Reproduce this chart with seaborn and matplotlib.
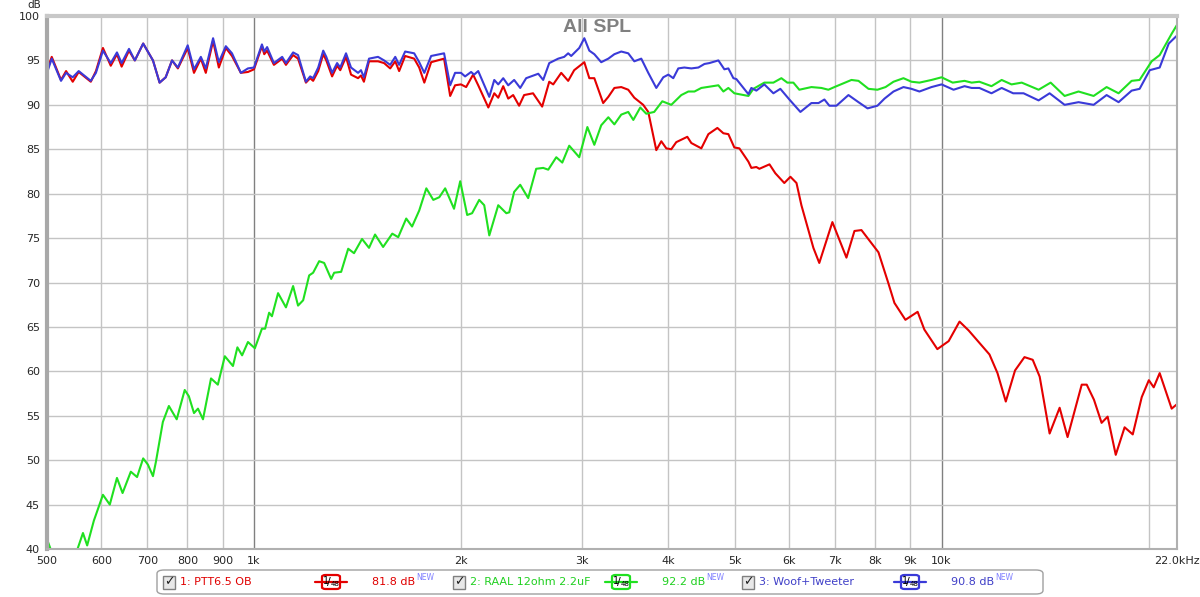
import numpy as np
import pandas as pd
import matplotlib
matplotlib.use("Agg")
import matplotlib.pyplot as plt
import seaborn as sns
from matplotlib.patches import FancyBboxPatch, Rectangle
from matplotlib.lines import Line2D

# ---- data read off the REW "All SPL" overlay ----
# trace 3: Woof+Tweeter (blue)
blue_hz = [500, 508, 524, 533, 545, 556, 579, 589, 603, 619, 632, 642, 658, 671, 690, 713, 729, 744, 760, 775,
           801, 818, 837, 851, 872, 889, 910, 929, 957, 980, 1000,
           1027, 1035, 1045, 1069, 1099, 1113, 1140, 1159, 1190, 1207, 1219, 1240, 1261, 1274, 1299, 1321, 1335,
           1361, 1384, 1417, 1431, 1445, 1470, 1515, 1546, 1578, 1605, 1626, 1659, 1710, 1739, 1769, 1810, 1890,
           1929, 1961,
           2000, 2028, 2069, 2090, 2119, 2199, 2236, 2266, 2304, 2343, 2390, 2439, 2488, 2591, 2634, 2688, 2770,
           2826, 2864, 2893, 2972, 3023, 3074, 3126, 3199, 3276, 3343, 3421, 3502, 3574, 3658, 3745, 3847, 3938,
           4005, 4072, 4141, 4225, 4326, 4429, 4520, 4595,
           4736, 4832, 4897, 4980, 5030, 5237, 5289, 5378, 5524, 5694, 5828, 6007, 6233, 6467, 6623, 6755, 6868,
           7033, 7321, 7571, 7805, 8067, 8261, 8513, 8802, 9042, 9286, 9668, 10000,
           10270, 10410, 10800, 11060, 11350, 11820, 12230, 12710, 13160, 13840, 14360, 15100, 15820, 16640,
           17380, 18090, 18900, 19410, 20080, 20760, 21400, 22000]
blue_db = [93.6, 95.2, 92.7, 93.6, 93.1, 93.8, 92.7, 93.6, 96.1, 94.7, 95.9, 94.7, 96.3, 95.0, 96.9, 95.0, 92.5,
           93.1, 95.0, 94.2, 96.7, 94.0, 95.4, 94.1, 97.5, 94.8, 96.6, 95.8, 93.6, 94.1, 94.2,
           96.8, 96.0, 96.5, 94.7, 95.4, 94.7, 95.9, 95.6, 92.6, 93.2, 93.0, 94.2, 96.1, 95.4, 93.6, 94.7, 94.2,
           95.8, 94.2, 93.6, 93.9, 93.1, 95.2, 95.4, 95.0, 94.5, 95.4, 94.5, 96.0, 95.8, 94.8, 93.6, 95.5, 95.8,
           92.2, 93.6,
           93.6, 93.2, 93.7, 93.4, 93.8, 90.9, 92.8, 92.3, 93.0, 92.2, 92.8, 91.9, 93.0, 93.5, 92.8, 94.7, 95.2,
           95.4, 95.8, 95.5, 96.4, 97.5, 96.1, 95.7, 94.8, 95.2, 95.7, 96.0, 95.8, 94.9, 95.2, 93.6, 91.9, 93.1,
           93.4, 93.0, 94.1, 94.2, 94.1, 94.2, 94.6, 94.7,
           95.0, 94.0, 94.1, 93.0, 92.9, 91.2, 91.9, 91.6, 92.3, 91.3, 91.8, 90.6, 89.2, 90.2, 90.2, 90.6, 89.9,
           89.9, 91.1, 90.3, 89.6, 89.9, 90.7, 91.5, 92.0, 91.8, 91.5, 92.0, 92.3,
           91.9, 91.7, 92.1, 91.9, 91.9, 91.3, 91.9, 91.3, 91.3, 90.5, 91.3, 90.0, 90.3, 90.0,
           91.1, 90.3, 91.6, 91.8, 93.9, 94.2, 96.9, 97.8]

# trace 1: PTT6.5 OB (red)
red_hz = blue_hz[:67] + [
    2000, 2035, 2083, 2119, 2192, 2236, 2266, 2304, 2343, 2382, 2430, 2471, 2546, 2625, 2688, 2724, 2798,
    2864, 2922, 3023, 3074, 3126, 3220, 3276, 3343, 3421, 3502, 3574, 3682, 3745,
    3847, 3912, 3978, 4045, 4113, 4268, 4326, 4473, 4580, 4720, 4816, 4897, 4996, 5081, 5237, 5289, 5378,
    5433, 5620, 5731, 5906, 6028, 6152, 6254, 6510, 6640, 6938, 7272, 7470, 7647, 8095, 8370, 8540, 8860,
    9230, 9440, 9860, 10240, 10620, 10950, 11350, 11740, 12060, 12400, 12790, 13200, 13570, 13890, 14360,
    14850, 15250, 15990, 16260, 16660, 17090, 17440, 17920, 18460, 18970, 19550, 20020, 20350, 20760,
    21610, 22000]
red_db = [93.9, 95.4, 92.8, 93.8, 92.6, 93.7, 92.6, 93.8, 96.4, 94.4, 95.7, 94.3, 96.1, 95.0, 96.9, 95.0, 92.5,
          93.1, 95.0, 94.1, 96.4, 93.6, 95.2, 93.6, 97.2, 94.2, 96.4, 95.5, 93.6, 93.7, 94.0,
          96.6, 95.7, 96.1, 94.5, 95.2, 94.5, 95.6, 95.2, 92.5, 93.0, 92.7, 93.8, 95.7, 95.0, 93.2, 94.4, 93.9,
          95.4, 93.4, 93.0, 93.3, 92.6, 94.9, 94.9, 94.7, 94.1, 94.9, 93.8, 95.5, 95.2, 94.2, 92.5, 94.8, 95.2,
          91.0, 92.2,
          92.3, 92.0, 93.4, 92.2, 89.7, 91.3, 90.8, 92.1, 90.7, 91.1, 89.9, 91.1, 91.3, 89.8, 92.6, 92.3, 93.6,
          92.7, 93.9, 94.8, 93.0, 93.0, 90.2, 90.9, 91.9, 92.0, 91.7, 90.8, 90.0, 89.2,
          84.9, 85.9, 85.1, 85.0, 85.8, 86.4, 85.7, 85.1, 86.7, 87.4, 86.8, 86.7, 85.2, 85.1, 83.6, 82.9, 83.0,
          82.8, 83.3, 82.3, 81.2, 81.9, 81.2, 78.7, 73.9, 72.2, 76.8, 72.8, 75.8, 75.9, 73.4, 69.9, 67.7, 65.8,
          66.7, 64.7, 62.5, 63.4, 65.6, 64.6, 63.2, 61.9, 59.8, 56.6, 60.1, 61.6, 61.3, 59.4, 53.0,
          55.9, 52.6, 58.5, 58.5, 56.8, 54.2, 54.9, 50.6, 53.7, 52.9, 57.1, 59.0, 58.2, 59.8,
          55.8, 56.3]

# trace 2: RAAL 12ohm 2.2uF (green)
green_hz = [500, 506, 515, 533, 551, 564, 572, 585, 603, 617, 632, 644, 662, 676, 690, 701, 713, 720, 737, 752,
            772, 793, 804, 818, 829, 843, 866, 886, 907, 932, 946, 961, 980, 1003, 1027, 1038, 1052, 1062, 1084,
            1113, 1140, 1159, 1179, 1203, 1219, 1244, 1265, 1295, 1308, 1339, 1371, 1398, 1436, 1470, 1500,
            1541, 1589, 1621, 1665, 1698, 1739, 1781, 1823, 1860, 1897, 1954, 1995, 2042, 2076, 2126, 2162,
            2199, 2266, 2328, 2351, 2390, 2439, 2505, 2573, 2634, 2679, 2752, 2808, 2874, 2972, 3054, 3126,
            3199, 3276, 3343, 3421, 3502, 3562, 3646, 3720, 3820, 3925, 4045, 4183, 4283, 4372, 4473, 4736,
            4816, 4897, 4996, 5237, 5325, 5524, 5694, 5848, 5966, 6088, 6210, 6467, 6687, 6845, 6985, 7395,
            7571, 7830, 8067, 8290, 8513, 8802, 9042, 9286, 9668, 10000, 10380, 10800, 11060, 11350, 11820,
            12230, 12640, 13080, 13840, 14410, 15100, 15820, 16640, 17380, 18090, 18900, 19410, 20210, 20760,
            21610, 22000]
green_db = [41.1, 40.0, 38.5, 37.8, 39.5, 41.8, 40.4, 43.2, 46.1, 45.0, 48.0, 46.3, 48.7, 48.1, 50.2, 49.5, 48.2,
            49.8, 54.3, 56.1, 54.6, 57.9, 57.2, 55.3, 55.8, 54.6, 59.2, 58.5, 61.7, 60.6, 62.7, 61.8, 63.3, 62.6,
            64.8, 64.8, 66.6, 66.2, 68.8, 67.2, 69.6, 67.4, 68.0, 70.8, 71.1, 72.4, 72.2, 70.4, 71.1, 71.2, 73.8,
            73.3, 74.9, 73.9, 75.4, 74.0, 75.5, 75.1, 77.2, 76.3, 78.1, 80.6, 79.3, 79.6, 80.6, 78.3, 81.4, 77.6,
            77.8, 79.3, 78.7, 75.3, 78.7, 77.8, 77.9, 80.2, 81.0, 79.5, 82.8, 82.9, 82.7, 84.1, 83.5, 85.4, 84.1,
            87.5, 85.5, 87.7, 88.6, 87.8, 88.9, 89.2, 88.3, 89.7, 89.0, 89.2, 90.4, 90.0, 91.1, 91.5, 91.5, 91.9,
            92.2, 91.5, 91.9, 91.3, 91.0, 91.8, 92.5, 92.5, 93.0, 92.5, 92.5, 91.7, 92.0, 91.9, 91.7, 92.0, 92.8,
            92.7, 91.8, 91.7, 92.0, 92.6, 93.0, 92.6, 92.5, 92.8, 93.1, 92.5, 92.7, 92.5, 92.6, 92.1, 92.8, 92.3,
            92.5, 91.7, 92.5, 91.0, 91.5, 91.0, 92.0, 91.3, 92.7, 92.8, 94.9, 95.6, 98.0, 99.0]

names = ["1: PTT6.5 OB", "2: RAAL 12ohm 2.2uF", "3: Woof+Tweeter"]
levels = ["81.8 dB", "92.2 dB", "90.8 dB"]
line_colors = ["#e40000", "#20e020", "#3a3ad8"]
text_colors = ["#e00000", "#20d020", "#4040c8"]

x_ticks = [500, 600, 700, 800, 900, 1000, 2000, 3000, 4000, 5000, 6000, 7000, 8000, 9000, 10000, 20000, 22000]
x_labels = ["500", "600", "700", "800", "900", "1k", "2k", "3k", "4k", "5k", "6k", "7k", "8k", "9k", "10k",
            "", "22.0kHz"]
y_ticks = list(range(40, 101, 5))

df = pd.concat([
    pd.DataFrame({"hz": red_hz, "db": red_db, "trace": names[0]}),
    pd.DataFrame({"hz": green_hz, "db": green_db, "trace": names[1]}),
    pd.DataFrame({"hz": blue_hz, "db": blue_db, "trace": names[2]}),
])

sns.set_style("white")
plt.rcParams["font.family"] = ["DejaVu Sans"]

W, H = 1200, 597
fig = plt.figure(figsize=(W / 100, H / 100), dpi=100)
fig.patch.set_facecolor("white")
ax = fig.add_axes([47 / W, 1 - 549 / H, 1130 / W, 533 / H])

sns.lineplot(data=df, x="hz", y="db", hue="trace", hue_order=names,
             palette=dict(zip(names, line_colors)), estimator=None, linewidth=1.5,
             legend=False, ax=ax)
for ln in ax.get_lines():
    ln.set_solid_joinstyle("round")
    ln.set_solid_capstyle("round")

ax.set_xscale("log")
ax.set_xlim(500, 22000)
ax.set_ylim(40, 100)
ax.set_xticks(x_ticks)
ax.set_xticklabels(x_labels)
ax.xaxis.set_minor_locator(matplotlib.ticker.NullLocator())
ax.set_yticks(y_ticks)
ax.set_xlabel("")
ax.set_ylabel("")
ax.tick_params(length=0, labelsize=8, pad=5)
ax.grid(True, color="#c4c4c4", linewidth=1)
for t, gl in zip(x_ticks, ax.get_xgridlines()):
    if t in (1000, 10000):
        gl.set_color("#808080")
ax.set_axisbelow(True)
for s in ax.spines.values():
    s.set_color("#b0b0b0")
    s.set_linewidth(1.5)
ax.spines["left"].set_linewidth(3)
ax.spines["left"].set_color("#a8a8a8")
ax.spines["top"].set_linewidth(3)
ax.spines["top"].set_color("#c8c8c8")

fig.text(0.5 - 3 / W, 1 - 27 / H, "All SPL", ha="center", va="center", fontsize=14,
         fontweight="bold", color="#808080", family=["Liberation Sans", "DejaVu Sans"])
fig.text(34 / W, 1 - 5 / H, "dB", ha="center", va="center", fontsize=7.5)

# ---- legend strip below the plot ----
def fx(x):
    return x / W

def fy(y):
    return 1 - y / H

fig.patches.append(FancyBboxPatch((fx(157), fy(594)), fx(886), 24 / H,
                                  boxstyle="round,pad=0,rounding_size=0.006",
                                  transform=fig.transFigure, facecolor="white",
                                  edgecolor="#a0a0a0", linewidth=1))
ymid = 582
for i, base in enumerate([163, 453, 742]):
    fig.patches.append(Rectangle((fx(base), fy(589)), 12 / W, 13 / H, transform=fig.transFigure,
                                 facecolor="#e8e8e8", edgecolor="#808080", linewidth=1))
    fig.text(fx(base + 6), fy(ymid), "\u2713", ha="center", va="center", fontsize=9,
             fontweight="bold", color="#202020")
    fig.text(fx(base + 17), fy(ymid), names[i], ha="left", va="center", fontsize=8,
             color=text_colors[i])
    fig.lines.append(Line2D([fx(base + 152), fx(base + 184)], [fy(ymid), fy(ymid)],
                            transform=fig.transFigure, color=line_colors[i], linewidth=1.6))
    fig.patches.append(FancyBboxPatch((fx(base + 159), fy(589)), 18 / W, 14 / H,
                                      boxstyle="round,pad=0,rounding_size=0.003",
                                      transform=fig.transFigure, facecolor="white",
                                      edgecolor=line_colors[i], linewidth=1.6))
    fig.text(fx(base + 160), fy(ymid - 1), "1", ha="left", va="center", fontsize=7, color="black")
    fig.text(fx(base + 164), fy(ymid), "/", ha="left", va="center", fontsize=8, color="black")
    fig.text(fx(base + 168), fy(ymid + 2), "48", ha="left", va="center", fontsize=5, color="black")
    fig.text(fx(base + 252), fy(ymid), levels[i], ha="right", va="center", fontsize=8,
             color=text_colors[i])
    fig.text(fx(base + 253), fy(577), "NEW", ha="left", va="center", fontsize=5.5, color="#8080ff")

fig.savefig("out.png", dpi=100, facecolor="white")
